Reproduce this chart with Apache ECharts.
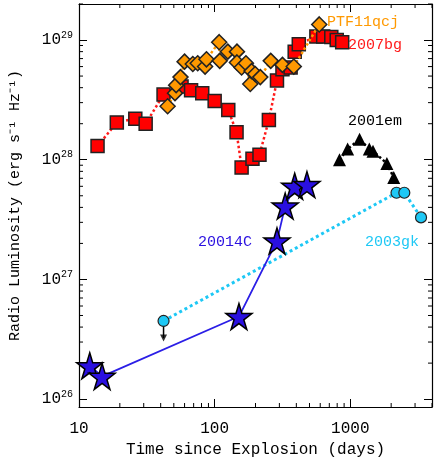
<!DOCTYPE html>
<html>
<head>
<meta charset="utf-8">
<script src="https://cdn.jsdelivr.net/npm/echarts@6/dist/echarts.min.js"></script>
<style>html,body{margin:0;padding:0;background:#fff}#main{width:436px;height:468px}</style>
</head>
<body>
<div id="main"></div>
<script>
const FONT = 'Liberation Mono';

// SN 2007bg (red squares)
const sn2007bg = [[13.7,1.3e28],[19,2.05e28],[26,2.2e28],[31,2.0e28],[42,3.5e28],[57,4.1e28],[67,3.8e28],[81,3.6e28],[100,3.1e28],[126,2.6e28],[145,1.7e28],[158,8.6e27],[190,1.02e28],[214,1.1e28],[251,2.15e28],[288,4.6e28],[316,5.7e28],[363,5.9e28],[389,8e28],[417,9.2e28],[562,1.07e29],[631,1.07e29],[724,1.06e29],[794,1.0e29],[871,9.6e28]];
// PTF11qcj (orange diamonds)
const ptf11qcj = [[45,2.8e28],[51,3.6e28],[52,4.2e28],[56,4.9e28],[60,6.6e28],[69,6.3e28],[75,6.4e28],[85,6.0e28],[87,6.9e28],[108,9.6e28],[109,6.7e28],[125,8e28],[146,8e28],[146,6.5e28],[158,5.9e28],[170,6.4e28],[183,4.3e28],[187,5.5e28],[199,5.2e28],[217,4.9e28],[259,6.7e28],[316,6.2e28],[383,6.0e28],[590,1.35e29]];
// SN 2001em (black triangles)
const sn2001em = [[832,1.0e28],[955,1.23e28],[1170,1.48e28],[1380,1.23e28],[1470,1.18e28],[1860,9.3e27],[2090,7.1e27]];
// SN 2003gk (cyan circles), first point is an upper limit
const sn2003gk = [[42,4.5e26],[2190,5.3e27],[2500,5.3e27],[3320,3.3e27]];
const limit2003gk = [[42,4.5e26],[42,3.25e26]];
// SN 2014C (blue stars)
const sn2014c = [[12,1.9e26],[14.8,1.55e26],[151,4.9e26],[288,2.1e27],[331,4.1e27],[389,6.0e27],[479,6.2e27]];

const xMinor = [];
[10, 100, 1000].forEach(d => { for (let k = 2; k <= 9; k++) if (d * k <= 4000) xMinor.push(d * k); });
const yMinor = [];
[1e26, 1e27, 1e28, 1e29].forEach(d => { for (let k = 2; k <= 9; k++) if (d * k <= 2e29) yMinor.push(d * k); });

const star = 'path://M50,0 L61,35 L98,35 L68,57 L79,91 L50,70 L21,91 L32,57 L2,35 L39,35 Z';
const sup = { '29': '²⁹' };

function isPow(v) { const l = Math.log10(v); return Math.abs(l - Math.round(l)) < 1e-6; }

function minorTicks(vals, dir) {
	return {
		type: 'custom',
		silent: true,
		z: 1,
		data: vals.map(v => [v]),
		renderItem: function (params, api) {
			const cs = params.coordSys;
			const v = api.value(0);
			const len = 4;
			let lines;
			if (dir === 'x') {
				const x = api.coord([v, 1e27])[0];
				lines = [[x, cs.y + cs.height, x, cs.y + cs.height - len], [x, cs.y, x, cs.y + len]];
			} else {
				const y = api.coord([100, v])[1];
				lines = [[cs.x, y, cs.x + len, y], [cs.x + cs.width, y, cs.x + cs.width - len, y]];
			}
			return {
				type: 'group',
				children: lines.map(l => ({
					type: 'line',
					shape: { x1: l[0], y1: l[1], x2: l[2], y2: l[3] },
					style: { stroke: '#000', lineWidth: 1 }
				}))
			};
		}
	};
}

const axisCommon = {
	type: 'log',
	logBase: 10,
	axisLine: { show: true, lineStyle: { color: '#000', width: 1.2 } },
	axisTick: { show: true, inside: true, length: 8, lineStyle: { color: '#000' } },
	splitLine: { show: false }
};

const myChart = echarts.init(document.getElementById('main'));
const option = {
	animation: false,
	grid: { left: 74, right: 4, top: 4, bottom: 61 },
	xAxis: [
		Object.assign({}, axisCommon, {
			min: 10, max: 4000,
			name: 'Time since Explosion (days)',
			nameLocation: 'middle', nameGap: 33,
			nameTextStyle: { fontFamily: FONT, fontSize: 16, color: '#000' },
			axisLabel: {
				fontFamily: FONT, fontSize: 16, color: '#000', margin: 14,
				formatter: v => isPow(v) ? String(Math.round(v)) : ''
			}
		}),
		Object.assign({}, axisCommon, { min: 10, max: 4000, position: 'top', axisLabel: { show: false } })
	],
	yAxis: [
		Object.assign({}, axisCommon, {
			min: 8.6e25, max: 2e29,
			name: 'Radio Luminosity (erg s⁻¹ Hz⁻¹)',
			nameLocation: 'middle', nameGap: 56,
			nameTextStyle: { fontFamily: FONT, fontSize: 15, color: '#000' },
			axisLabel: {
				fontFamily: FONT, fontSize: 16, color: '#000', margin: 6,
				formatter: v => isPow(v) ? '10{s|' + Math.round(Math.log10(v)) + '}' : '',
				rich: { s: { fontFamily: FONT, fontSize: 10, verticalAlign: 'top', padding: [0, 0, 10, 0] } }
			}
		}),
		Object.assign({}, axisCommon, { min: 8.6e25, max: 2e29, position: 'right', axisLabel: { show: false } })
	],
	series: [
		minorTicks(xMinor, 'x'),
		minorTicks(yMinor, 'y'),
		{
			type: 'line', data: sn2007bg, symbol: 'rect', symbolSize: 13,
			lineStyle: { color: '#ff1a1a', type: 'dotted', width: 2.5 },
			itemStyle: { color: '#ff0000', borderColor: '#222', borderWidth: 1.5 }, z: 3
		},
		{
			type: 'line', data: ptf11qcj, symbol: 'diamond', symbolSize: 15,
			lineStyle: { color: '#ff9900', type: 'dotted', width: 2.5 },
			itemStyle: { color: '#ff9900', borderColor: '#222', borderWidth: 1.5 }, z: 4
		},
		{
			type: 'line', data: sn2001em, symbol: 'triangle', symbolSize: 13,
			lineStyle: { color: '#000', type: 'dotted', width: 2.5 },
			itemStyle: { color: '#000' }, z: 3
		},
		{
			type: 'line', data: limit2003gk, symbol: ['none', 'arrow'], symbolSize: [0, 0],
			showSymbol: false, lineStyle: { color: '#000', width: 1.5 }, z: 3
		},
		{
			type: 'scatter', data: [limit2003gk[1]], symbol: 'triangle', symbolSize: [7, 7], symbolRotate: 180,
			itemStyle: { color: '#000' }, z: 3
		},
		{
			type: 'line', data: sn2003gk, symbol: 'circle', symbolSize: 11,
			lineStyle: { color: '#1ec8f5', type: 'dotted', width: 3 },
			itemStyle: { color: '#1ec8f5', borderColor: '#222', borderWidth: 1.2 }, z: 4
		},
		{
			type: 'line', data: sn2014c, symbol: star, symbolSize: 26,
			lineStyle: { color: '#2b1ee6', width: 1.8 },
			itemStyle: { color: '#2a10e0', borderColor: '#000', borderWidth: 1.5 }, z: 5
		}
	],
	graphic: [
		{ type: 'text', left: 327, top: 15, style: { text: 'PTF11qcj', fill: '#ff9900', font: '15px ' + FONT } },
		{ type: 'text', left: 348, top: 38, style: { text: '2007bg', fill: '#ff1a1a', font: '15px ' + FONT } },
		{ type: 'text', left: 348, top: 114, style: { text: '2001em', fill: '#000', font: '15px ' + FONT } },
		{ type: 'text', left: 198, top: 235, style: { text: '20014C', fill: '#2a10e0', font: '15px ' + FONT } },
		{ type: 'text', left: 365, top: 235, style: { text: '2003gk', fill: '#1ec8f5', font: '15px ' + FONT } }
	]
};
myChart.setOption(option);
</script>
</body>
</html>
